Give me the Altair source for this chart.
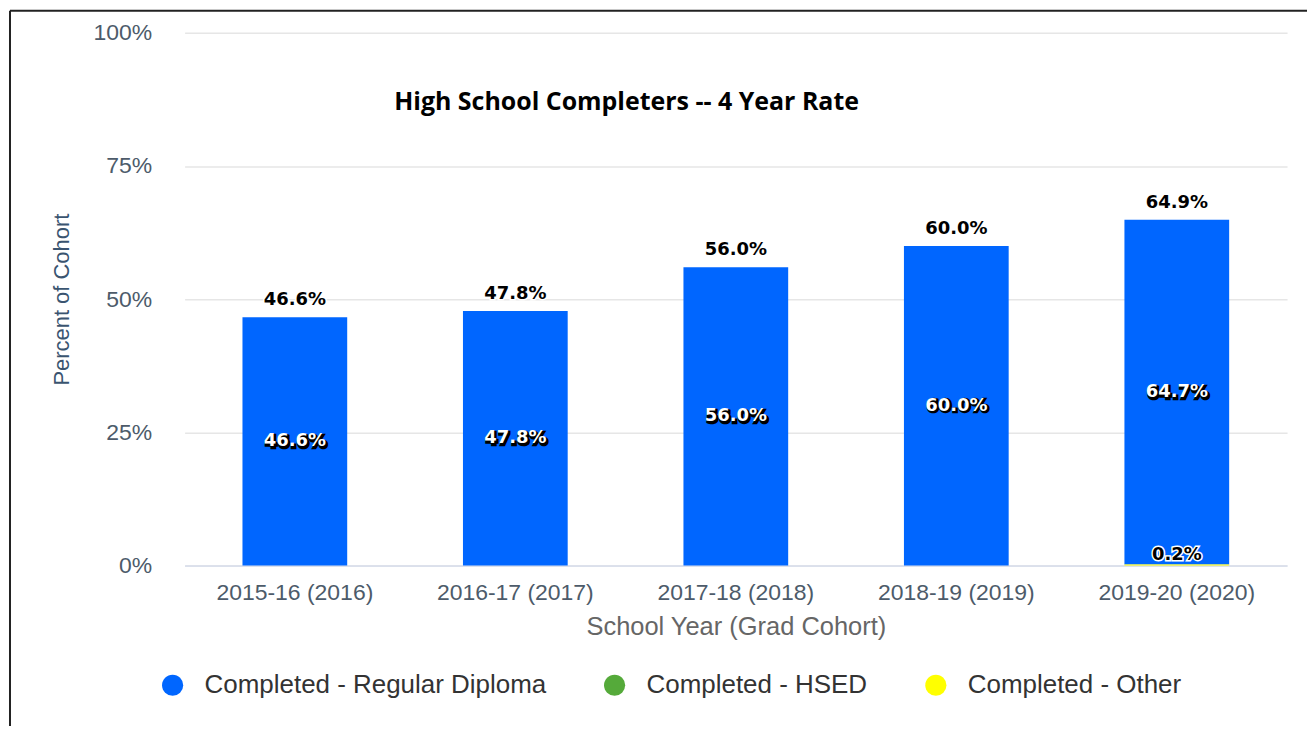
import altair as alt
import pandas as pd

years = ["2015-16 (2016)", "2016-17 (2017)", "2017-18 (2018)", "2018-19 (2019)", "2019-20 (2020)"]
series = ["Completed - Regular Diploma", "Completed - HSED", "Completed - Other"]
regular = [46.6, 47.8, 56.0, 60.0, 64.7]
hsed = [0.0, 0.0, 0.0, 0.0, 0.0]
other = [0.0, 0.0, 0.0, 0.0, 0.2]
colors = ["#0066FF", "#55AA3A", "#FFFF00"]
stack_order = [2, 1, 0]  # regular on top, other at the bottom

rows = []
for s, vals, o in zip(series, [regular, hsed, other], stack_order):
    for y, v in zip(years, vals):
        rows.append({"year": y, "series": s, "value": v, "order": o})
df = pd.DataFrame(rows)

FONT = "Liberation Sans"
LABEL_FONT = "DejaVu Sans"
LFS = 18  # data label font size

x_enc = alt.X(
    "year:N", sort=years,
    scale=alt.Scale(paddingInner=0.525, paddingOuter=0.2625),
    axis=alt.Axis(
        title="School Year (Grad Cohort)", labelAngle=0, labelFontSize=23,
        labelColor="#4d5b6a", labelFont=FONT, labelPadding=16, ticks=False,
        domainColor="#ccd6eb", domainWidth=1, grid=False,
        titleFontSize=25.5, titleColor="#666666", titleFont=FONT,
        titleFontWeight="normal", titlePadding=10,
    ),
)
y_scale = alt.Scale(domain=[0, 100])
y_axis = alt.Axis(
    title="Percent of Cohort", values=[0, 25, 50, 75, 100],
    labelExpr="datum.value + '%'", labelFontSize=23, labelColor="#4d5b6a",
    labelFont=FONT, labelPadding=33, ticks=False, domain=False,
    gridColor="#e6e6e6", gridWidth=1.5,
    titleFont=FONT, titleFontSize=22, titleColor="#3a5470",
    titleFontWeight="normal", titlePadding=20,
)

bars = alt.Chart(df).mark_bar().encode(
    x=x_enc,
    y=alt.Y("value:Q", stack="zero", scale=y_scale, axis=y_axis),
    color=alt.Color(
        "series:N",
        scale=alt.Scale(domain=series, range=colors),
        legend=alt.Legend(
            title=None, orient="none", direction="horizontal",
            legendX=-25, legendY=641, symbolType="circle", symbolSize=450,
            symbolStrokeWidth=0, symbolOpacity=1, labelFontSize=26,
            labelColor="#333333", labelFont=FONT, labelLimit=500,
            columnPadding=55, labelOffset=19,
        ),
    ),
    order=alt.Order("order:Q"),
)

stacked = alt.Chart(df).transform_stack(
    stack="value", groupby=["year"], sort=[alt.SortField("order")], as_=["y0", "y1"]
).transform_calculate(
    mid="(datum.y0 + datum.y1) / 2",
    label="format(datum.value, '.1f') + '%'",
)

reg = stacked.transform_filter(f"datum.series == '{series[0]}'")
inside_shadow = reg.mark_text(
    font=LABEL_FONT, fontSize=LFS, fontWeight="bold", color="black",
    stroke="black", strokeWidth=2.5, dx=1.5, dy=1.5,
).encode(x=alt.X("year:N", sort=years), y=alt.Y("mid:Q"), text="label:N")
inside_text = reg.mark_text(
    font=LABEL_FONT, fontSize=LFS, fontWeight="bold", color="white",
).encode(x=alt.X("year:N", sort=years), y=alt.Y("mid:Q"), text="label:N")

small = stacked.transform_filter(f"datum.series != '{series[0]}' && datum.value > 0")
small_halo = small.mark_text(
    font=LABEL_FONT, fontSize=LFS, fontWeight="bold", color="white",
    stroke="white", strokeWidth=3, baseline="bottom", dy=-2,
).encode(x=alt.X("year:N", sort=years), y=alt.Y("y0:Q"), text="label:N")
small_text = small.mark_text(
    font=LABEL_FONT, fontSize=LFS, fontWeight="bold", color="black",
    baseline="bottom", dy=-2,
).encode(x=alt.X("year:N", sort=years), y=alt.Y("y0:Q"), text="label:N")

totals = alt.Chart(df).transform_aggregate(
    total="sum(value)", groupby=["year"]
).transform_calculate(label="format(datum.total, '.1f') + '%'")
total_halo = totals.mark_text(
    font=LABEL_FONT, fontSize=LFS, fontWeight="bold", color="white",
    stroke="white", strokeWidth=3, baseline="bottom", dy=-8,
).encode(x=alt.X("year:N", sort=years), y=alt.Y("total:Q"), text="label:N")
total_text = totals.mark_text(
    font=LABEL_FONT, fontSize=LFS, fontWeight="bold", color="black",
    baseline="bottom", dy=-8,
).encode(x=alt.X("year:N", sort=years), y=alt.Y("total:Q"), text="label:N")

one = pd.DataFrame({"a": [0]})
title = alt.Chart(one).mark_text(
    text="High School Completers -- 4 Year Rate", font="Open Sans",
    fontSize=25, fontWeight="bold", color="black",
).encode(x=alt.value(443), y=alt.value(69))

frame_top = alt.Chart(one).mark_rule(color="#222222", strokeWidth=2).encode(
    x=alt.value(-175), x2=alt.value(1130), y=alt.value(-22)
)
frame_left = alt.Chart(one).mark_rule(color="#222222", strokeWidth=2).encode(
    x=alt.value(-175), y=alt.value(-22), y2=alt.value(720)
)

chart = alt.layer(
    bars, inside_shadow, inside_text, small_halo, small_text,
    total_halo, total_text, title, frame_top, frame_left,
).properties(
    width=1105, height=534,
    autosize=alt.AutoSizeParams(type="none"),
    padding={"left": 177, "top": 24, "right": 20, "bottom": 160},
).configure_view(stroke=None)

chart.save("out.html", embed_options={"renderer": "svg", "actions": False})
